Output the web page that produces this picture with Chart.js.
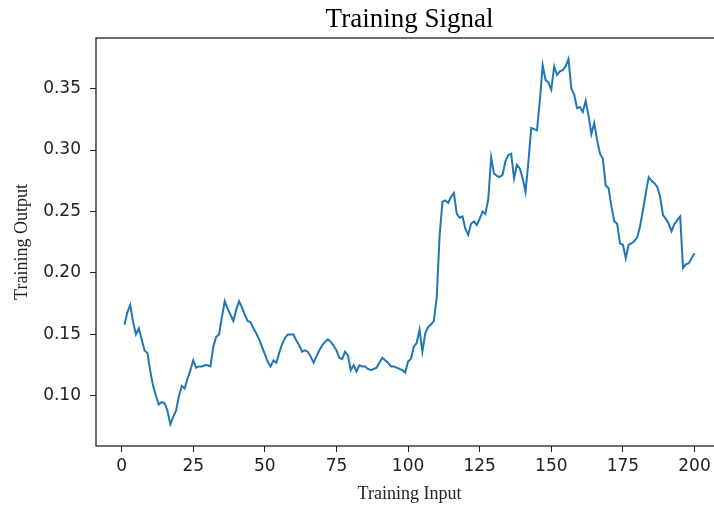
<!DOCTYPE html>
<html>
<head>
<meta charset="utf-8">
<script src="https://cdn.jsdelivr.net/npm/chart.js@4/dist/chart.umd.min.js"></script>
<style>
  html, body { margin: 0; padding: 0; background: #fff; overflow: hidden; }
  #wrap { width: 724px; height: 507px; }
</style>
</head>
<body>
<div id="wrap"><canvas id="chart" width="724" height="507"></canvas></div>
<script>
// training output, one value per input step (1..200)
const trainingOutput = [
  0.158, 0.168, 0.174, 0.160, 0.150, 0.155, 0.146, 0.137, 0.135, 0.120,
  0.108, 0.100, 0.093, 0.095, 0.094, 0.088, 0.077, 0.083, 0.088, 0.100,
  0.108, 0.106, 0.114, 0.121, 0.129, 0.123, 0.124, 0.124, 0.125, 0.125,
  0.124, 0.140, 0.148, 0.150, 0.164, 0.177, 0.171, 0.166, 0.161, 0.170,
  0.177, 0.172, 0.166, 0.161, 0.160, 0.155, 0.151, 0.146, 0.140, 0.134,
  0.128, 0.124, 0.129, 0.127, 0.135, 0.142, 0.147, 0.150, 0.150, 0.150,
  0.145, 0.141, 0.136, 0.137, 0.136, 0.132, 0.127, 0.132, 0.137, 0.141,
  0.144, 0.146, 0.144, 0.141, 0.137, 0.131, 0.130, 0.136, 0.133, 0.121,
  0.125, 0.120, 0.125, 0.124, 0.124, 0.122, 0.121, 0.122, 0.123, 0.127,
  0.131, 0.129, 0.127, 0.124, 0.124, 0.123, 0.122, 0.121, 0.119, 0.128,
  0.130, 0.140, 0.143, 0.154, 0.136, 0.151, 0.156, 0.158, 0.161, 0.180,
  0.230, 0.258, 0.259, 0.257, 0.262, 0.265, 0.248, 0.245, 0.246, 0.236,
  0.231, 0.240, 0.242, 0.239, 0.244, 0.250, 0.248, 0.260, 0.294, 0.281,
  0.279, 0.278, 0.280, 0.291, 0.296, 0.297, 0.277, 0.288, 0.285, 0.277,
  0.266, 0.290, 0.318, 0.317, 0.316, 0.340, 0.369, 0.357, 0.355, 0.349,
  0.368, 0.361, 0.364, 0.365, 0.368, 0.374, 0.350, 0.345, 0.334, 0.335,
  0.331, 0.340, 0.328, 0.313, 0.322, 0.308, 0.297, 0.293, 0.271, 0.269,
  0.254, 0.242, 0.240, 0.224, 0.223, 0.212, 0.223, 0.224, 0.226, 0.229,
  0.238, 0.251, 0.265, 0.278, 0.275, 0.273, 0.270, 0.262, 0.247, 0.244,
  0.240, 0.234, 0.240, 0.243, 0.246, 0.204, 0.207, 0.208, 0.212, 0.216
];
const trainingInput = trainingOutput.map((_, i) => i + 1);

const xTicks = [0, 25, 50, 75, 100, 125, 150, 175, 200];
const yTicks = [0.10, 0.15, 0.20, 0.25, 0.30, 0.35];

const points = trainingInput.map((x, i) => ({ x: x, y: trainingOutput[i] }));

// full box around the plot, like matplotlib spines
const frame = {
  id: 'frame',
  afterDraw(chart) {
    const { ctx, chartArea: a } = chart;
    ctx.save();
    ctx.strokeStyle = '#222';
    ctx.lineWidth = 1.3;
    ctx.strokeRect(a.left, a.top, a.right - a.left, a.bottom - a.top);
    ctx.restore();
  }
};

const tickFont = { family: 'DejaVu Sans', size: 17 };
const labelFont = { family: 'Liberation Serif', size: 18 };

new Chart(document.getElementById('chart').getContext('2d'), {
  type: 'line',
  data: {
    datasets: [{
      data: points,
      borderColor: '#1f77b4',
      borderWidth: 2,
      pointRadius: 0,
      tension: 0,
      fill: false
    }]
  },
  options: {
    responsive: false,
    animation: false,
    devicePixelRatio: 1,
    layout: { padding: { left: 0, right: 1, top: 0, bottom: 0 } },
    plugins: {
      legend: { display: false },
      tooltip: { enabled: false },
      title: {
        display: true,
        fullSize: false, // centre over the plot area, not the canvas
        text: 'Training Signal',
        color: '#000',
        font: { family: 'Liberation Serif', size: 27, weight: 'normal' },
        padding: { top: 4, bottom: 1.6 }
      }
    },
    scales: {
      x: {
        type: 'linear',
        min: -8.95,
        max: 209.95,
        afterBuildTicks: s => { s.ticks = xTicks.map(v => ({ value: v })); },
        afterFit: s => { s.height = 61; },
        ticks: { font: tickFont, color: '#222', padding: 4, maxRotation: 0 },
        grid: { drawOnChartArea: false, drawTicks: true, tickLength: 6, tickColor: '#222' },
        border: { display: false },
        title: { display: true, text: 'Training Input', color: '#222', font: labelFont, padding: { top: 2, bottom: 2 } }
      },
      y: {
        type: 'linear',
        min: 0.0593,
        max: 0.3911,
        afterBuildTicks: s => { s.ticks = yTicks.map(v => ({ value: v })); },
        afterFit: s => { s.width = 96; },
        ticks: { font: tickFont, color: '#222', padding: 9, callback: v => v.toFixed(2) },
        grid: { drawOnChartArea: false, drawTicks: true, tickLength: 6, tickColor: '#222' },
        border: { display: false },
        title: { display: true, text: 'Training Output', color: '#222', font: labelFont, padding: { top: 11, bottom: 11 } }
      }
    }
  },
  plugins: [frame]
});
</script>
</body>
</html>
